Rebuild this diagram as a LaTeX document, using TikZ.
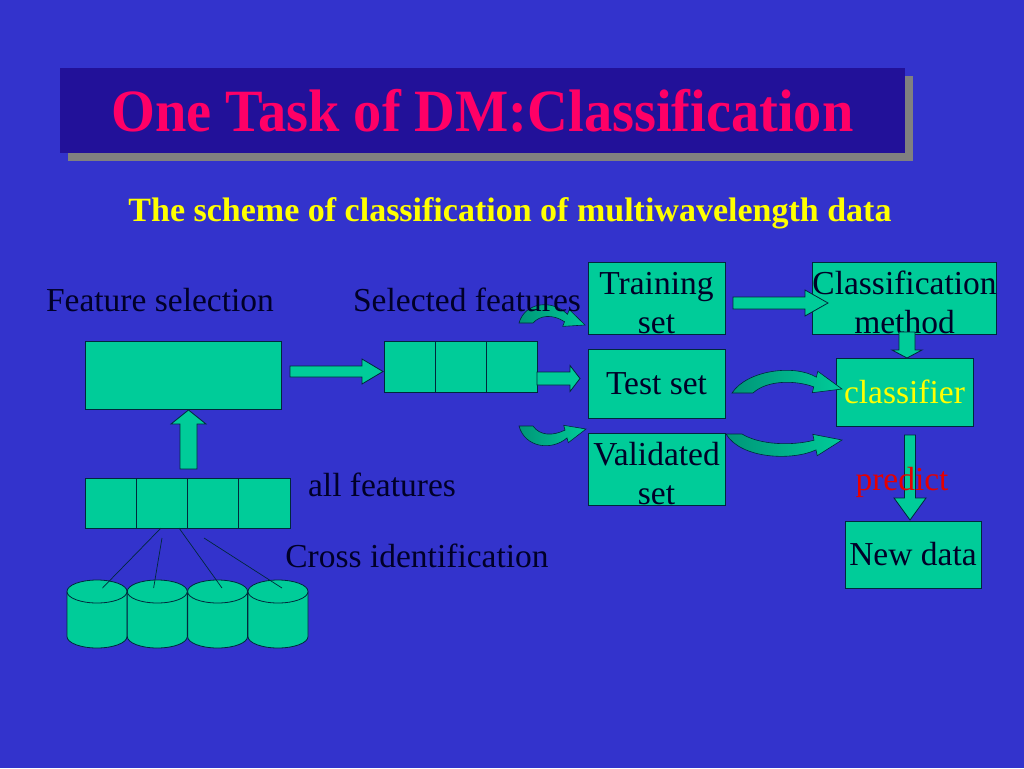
\documentclass[tikz,border=0pt]{standalone}
\usepackage{fontspec}
\setmainfont{Liberation Serif}
\usetikzlibrary{calc}
\definecolor{bgblue}{RGB}{51,51,204}
\definecolor{titlebox}{RGB}{34,17,153}
\definecolor{shadowgray}{RGB}{128,128,128}
\definecolor{tealfill}{RGB}{0,204,153}
\definecolor{tealdark}{RGB}{0,150,120}
\definecolor{outline}{RGB}{0,40,60}
\definecolor{titlered}{RGB}{255,0,102}
\definecolor{subyellow}{RGB}{255,255,0}
\definecolor{predred}{RGB}{230,0,0}
\definecolor{inktext}{RGB}{0,0,40}
\newcommand\txtbody{\fontsize{33.5}{39.5}\selectfont}
\newcommand\txtsub{\fontsize{34}{40}\selectfont\bfseries}
\newcommand\txttitle{\fontsize{60}{70}\selectfont\bfseries}
\tikzset{
  box/.style={draw=outline, fill=tealfill, line width=0.8pt, inner sep=0pt,
    align=center, font=\txtbody, text=inktext},
  label/.style={font=\txtbody, text=inktext, inner sep=0pt, anchor=base},
  barrow/.style={draw=outline, fill=tealfill, line width=0.8pt, line join=miter},
  carrow/.style={draw=outline, line width=0.6pt, left color=tealdark, right color=tealfill},
  thinline/.style={draw=outline, line width=0.7pt},
  cyl/.style={draw=outline, fill=tealfill, line width=0.8pt}
}
% block arrow: #1 x, #2 y (tail centre), #3 rotation, #4 length, #5 shaft half, #6 head half, #7 head length
\newcommand\blockarrow[7]{%
  \filldraw[barrow, shift={(#1,#2)}, rotate=#3]
    (0,-#5) -- (#4-#7,-#5) -- (#4-#7,-#6) -- (#4,0) -- (#4-#7,#6) -- (#4-#7,#5) -- (0,#5) -- cycle;}
\begin{document}
\begin{tikzpicture}[x=1pt, y={(0pt,-1pt)}]
\fill[bgblue] (0,0) rectangle (1024,768);
\useasboundingbox (0,0) rectangle (1024,768);

% title
\fill[shadowgray] (68,76) rectangle (913,161);
\node[fill=titlebox, minimum width=845pt, minimum height=85pt, inner sep=0pt,
  font=\txttitle, text=titlered] (title) at (482.5,110.5)
  {\scalebox{0.94}[1]{One Task of DM:Classification}};

% subtitle
\node[font=\txtsub, text=subyellow, inner sep=0pt, anchor=base] (subtitle) at (510,221)
  {The scheme of classification of multiwavelength data};

% feature selection box
\node[box, minimum width=196pt, minimum height=68pt] (fsel) at (183,375) {};

% selected features
\foreach \i/\x in {1/409.5,2/460.5,3/511.5}
  \node[box, minimum width=51pt, minimum height=51pt] (sf\i) at (\x,366.5) {};

% all features
\foreach \i/\x in {1/110.6,2/161.9,3/213.1,4/264.4}
  \node[box, minimum width=51.25pt, minimum height=50pt] (af\i) at (\x,503) {};

% right-side boxes
\node[box, minimum width=137pt, minimum height=68pt] (train) at (656.5,298) {\rule{0pt}{32pt}Training\\set};
\node[box, minimum width=137pt, minimum height=69pt] (test) at (656.5,383.5) {Test set};
\node[box, minimum width=137pt, minimum height=68pt] (valid) at (656.5,469) {\rule{0pt}{32pt}Validated\\set};
\node[box, minimum width=137pt, minimum height=68pt] (method) at (904.5,298) {\rule{0pt}{32pt}Classification\\method};
\node[box, minimum width=137pt, minimum height=68pt, text=subyellow] (clf) at (904.5,392) {classifier};
\node[box, minimum width=136pt, minimum height=67pt] (newd) at (913,554.5) {New data};

% cylinders
\foreach \i/\cx in {1/97,2/157.3,3/217.6,4/278}{
  \filldraw[cyl] (\cx-30,591.5) -- (\cx-30,636.5) arc[start angle=180, end angle=360, x radius=30pt, y radius=11.5pt] -- (\cx+30,591.5);
  \filldraw[cyl] (\cx,591.5) ellipse[x radius=30pt, y radius=11.5pt];
  \coordinate (db\i) at (\cx,591.5);
}
\coordinate (t1) at (102.5,588);
\coordinate (t2) at (153.6,588);
\coordinate (t3) at (222,588);
\coordinate (t4) at (282,588);
\coordinate (s1) at (161,528);
\coordinate (s2) at (162,538);
\coordinate (s3) at (179,528);
\coordinate (s4) at (204,538);
\draw[thinline] (s1) -- (t1);
\draw[thinline] (s2) -- (t2);
\draw[thinline] (s3) -- (t3);
\draw[thinline] (s4) -- (t4);

% block arrows
\blockarrow{290}{371.5}{0}{93}{5.5}{12.5}{21}
\blockarrow{537}{378.5}{0}{43}{6.5}{13}{10}
\blockarrow{188.5}{469}{90}{59}{8.5}{17.5}{14}
\blockarrow{733}{303}{0}{95}{6}{13}{23}
\blockarrow{907}{332}{-90}{26}{8}{15}{8}
\blockarrow{910}{435}{-90}{85}{5.5}{16}{22}

% curved arrows
\path[carrow] (519,323) .. controls (525,302) and (552,299) .. (567.5,314.3) -- (569.3,309.6)
  -- (585,325) -- (562.7,326.4) -- (564.5,321.7) .. controls (553,314) and (540,315) .. (533,323) -- cycle;
\path[carrow] (519,426) .. controls (525,448) and (552,451) .. (567,437.9) -- (568.3,442.7)
  -- (586,429) -- (563.7,425.3) -- (565,430.1) .. controls (553,436) and (540,436) .. (533,426) -- cycle;
\path[carrow] (732,393) .. controls (747,370) and (795,364) .. (816.3,377.2) -- (817.8,371.3)
  -- (842,389) -- (812.3,392.7) -- (813.7,386.8) .. controls (795,380) and (767,380) .. (753,393) -- cycle;
\path[carrow] (726,434) .. controls (741,459) and (792,461) .. (816,449.9) -- (817.2,455.7)
  -- (842,440) -- (812.8,434.3) -- (814,440.2) .. controls (792,446) and (760,445) .. (742,434) -- cycle;

% labels (drawn on top)
\node[label] (lfs) at (160,311) {Feature selection};
\node[label] (lsf) at (467,311) {Selected features};
\node[label] (laf) at (382,496) {all features};
\node[label] (lci) at (417,567) {Cross identification};
\node[label, text=predred] (pred) at (902,490) {predict};
\end{tikzpicture}
\end{document}
